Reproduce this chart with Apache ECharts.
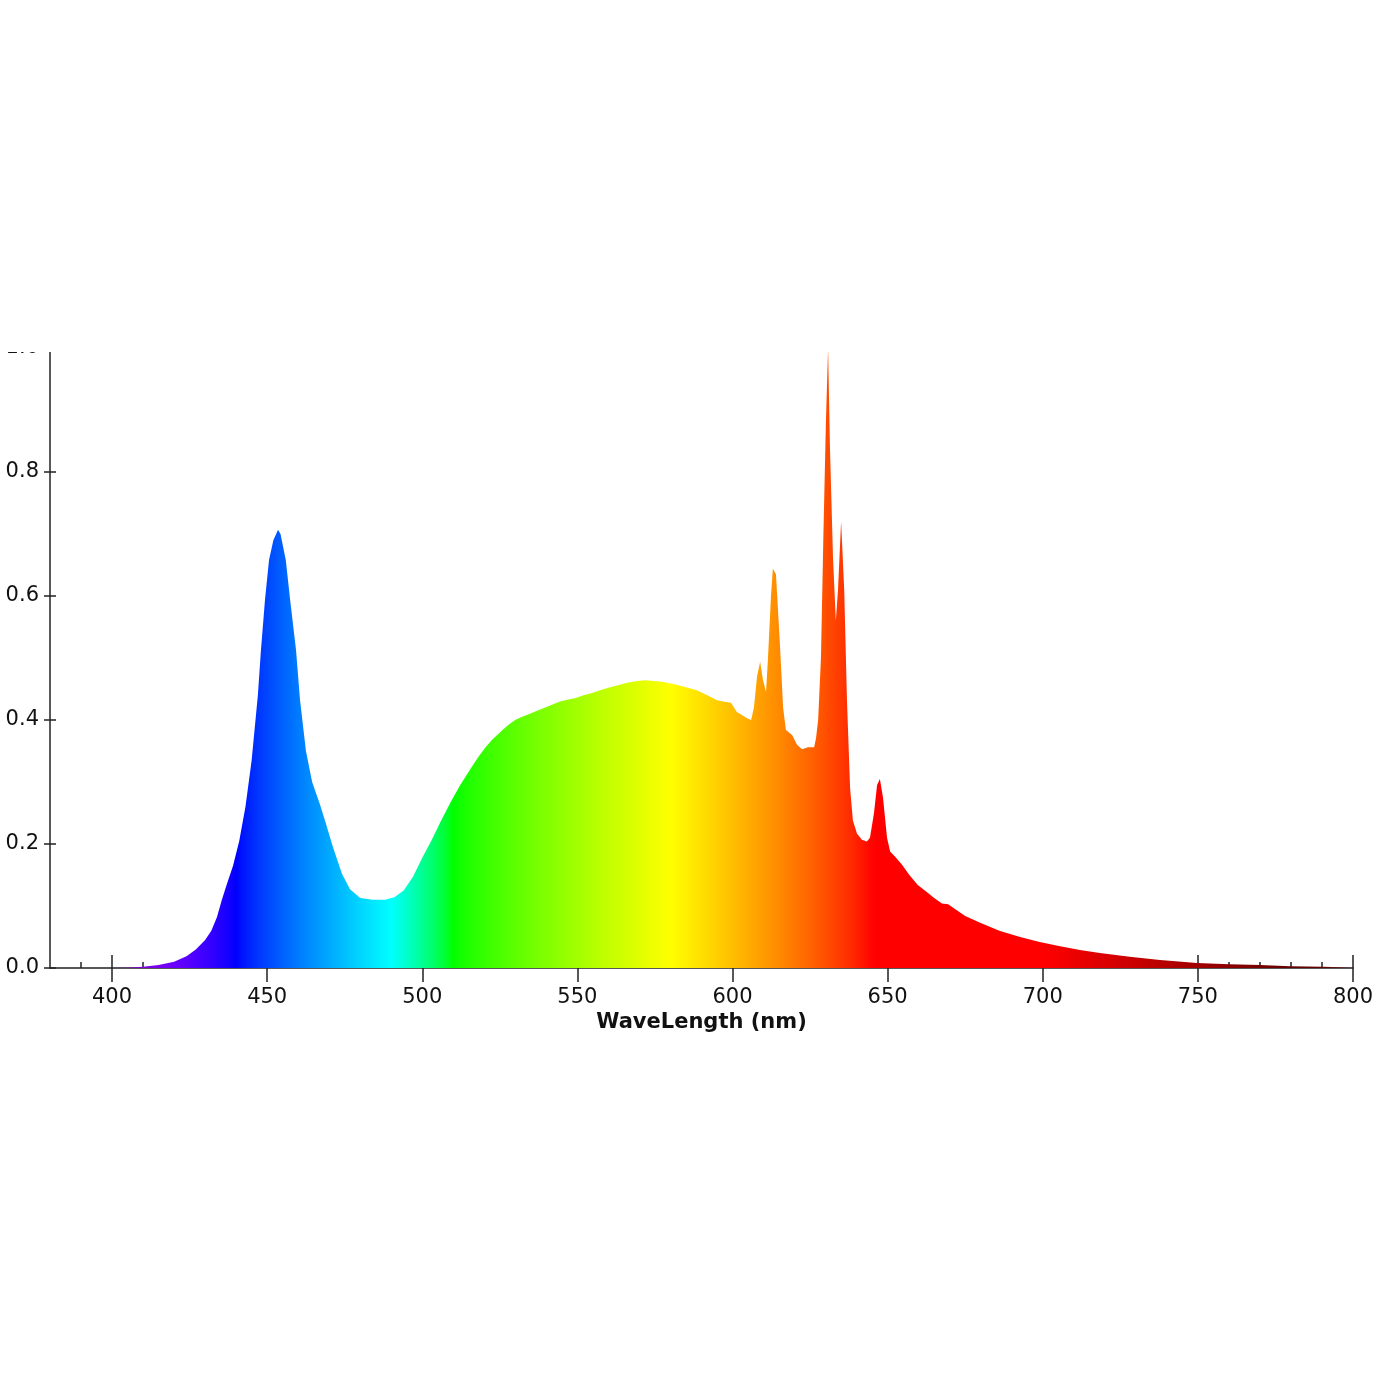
<!DOCTYPE html>
<html>
<head>
<meta charset="utf-8">
<script src="https://cdn.jsdelivr.net/npm/echarts@6/dist/echarts.min.js"></script>
<style>html,body{margin:0;padding:0;background:#fff}#chart{width:1395px;height:1395px}</style>
</head>
<body>
<div id="chart"></div>
<script>
// Wavelength (nm)
const wavelength = [380,390,400,405,410,415,420,424,427,430,432,433.8,435.4,437,439,441,443,445,447,448,449.3,450.6,452,453.5,454.3,456,457.4,459.3,460.6,462.5,464.5,467,469,471.2,474.1,476.7,480,484,488,491,494,497,500.2,503,506,509,512,515.4,518,520.2,522.5,525,527.5,529.9,532,534.7,537,539.6,542,544.4,547,549.2,552,554.5,557.3,560,563,566,569.2,572,574.4,576.5,578.9,582,585,588.5,591,593,595,597.9,599.5,601.4,603,604.7,606,606.9,607.9,608.9,609.8,610.8,611.4,612.4,613,614,615.3,616.3,617.2,619.2,620.8,622.4,624.3,626.3,626.9,627.6,628.5,629.3,630.1,630.8,631.4,632.4,633.3,634,635,636,636.9,637.9,638.8,640.1,641.7,643.3,644.3,645.6,646.6,647.5,648.5,649.8,650.8,652.5,654.7,657,659.7,662.5,665,667.5,669.5,671.7,675,679.8,686,692.7,699,705.6,712,718.4,728,737.8,749.7,760,770,779.7,790,800];
// Relative intensity
const intensity = [0,0,0,0.0005,0.002,0.005,0.010,0.019,0.03,0.045,0.06,0.082,0.11,0.135,0.165,0.205,0.26,0.335,0.44,0.513,0.594,0.658,0.69,0.707,0.70,0.658,0.594,0.513,0.432,0.35,0.30,0.264,0.232,0.195,0.152,0.127,0.113,0.110,0.110,0.114,0.125,0.147,0.18,0.206,0.237,0.266,0.293,0.32,0.34,0.355,0.368,0.38,0.391,0.40,0.405,0.41,0.415,0.42,0.425,0.43,0.433,0.435,0.44,0.443,0.448,0.452,0.456,0.46,0.463,0.464,0.463,0.462,0.46,0.457,0.453,0.448,0.442,0.437,0.432,0.429,0.428,0.413,0.408,0.403,0.40,0.42,0.47,0.494,0.465,0.445,0.497,0.60,0.644,0.635,0.52,0.42,0.384,0.376,0.36,0.353,0.356,0.356,0.37,0.40,0.50,0.70,0.88,1.0,0.84,0.66,0.56,0.61,0.72,0.61,0.43,0.29,0.238,0.217,0.207,0.204,0.21,0.25,0.295,0.305,0.275,0.21,0.188,0.179,0.166,0.15,0.134,0.123,0.113,0.104,0.103,0.095,0.084,0.073,0.06,0.05,0.042,0.035,0.029,0.024,0.018,0.013,0.008,0.006,0.005,0.003,0.002,0.001];
// Tick labels
const xMajor = [400,450,500,550,600,650,700,750,800];
const xMinor = [390,410,420,430,440,460,470,480,490,510,520,530,540,560,570,580,590,610,620,630,640,660,670,680,690,710,720,730,740,760,770,780,790];

function spectral(w){
  let r,g,b;
  if(w<440){r=-(w-440)/60;g=0;b=1;}
  else if(w<490){r=0;g=(w-440)/50;b=1;}
  else if(w<510){r=0;g=1;b=-(w-510)/20;}
  else if(w<580){r=(w-510)/70;g=1;b=0;}
  else if(w<645){r=1;g=-(w-645)/65;b=0;}
  else {r=1;g=0;b=0;}
  let f=1;
  if(w<420) f=0.3+0.7*(w-380)/40;
  else if(w>700) f=Math.max(0.3,0.3+0.7*(780-w)/80);
  const c=v=>Math.round(255*Math.pow(Math.max(0,Math.min(1,v*f)),0.8));
  return 'rgb('+c(r)+','+c(g)+','+c(b)+')';
}
const stops=[];
for(let w=380;w<=800;w+=2){stops.push({offset:(w-380)/420,color:spectral(w)});}

const data = wavelength.map((w,i)=>[w,intensity[i]]);
const axisColor='#222';
const font='DejaVu Sans';
const fs=21;
const chart = echarts.init(document.getElementById('chart'));
chart.setOption({
  animation:false,
  backgroundColor:'#fff',
  grid:{left:50,right:42,top:348,bottom:427,containLabel:false},
  xAxis:[
    {type:'value',min:380,max:800,position:'bottom',
     axisLine:{show:true,onZero:false,lineStyle:{color:axisColor,width:1.5}},
     axisTick:{show:true,customValues:xMajor,inside:false,length:14,lineStyle:{color:axisColor,width:1.5}},
     axisLabel:{show:true,customValues:xMajor,margin:19,fontSize:fs,color:'#111',fontFamily:font},
     splitLine:{show:false},
     name:'WaveLength (nm)',nameLocation:'middle',nameGap:44,
     nameTextStyle:{fontWeight:'bold',fontSize:fs,color:'#111',fontFamily:font}},
    {type:'value',min:380,max:800,position:'bottom',
     axisLine:{show:false,onZero:false},
     axisTick:{show:true,customValues:xMajor,inside:true,length:13,lineStyle:{color:axisColor,width:1.5}},
     axisLabel:{show:false},splitLine:{show:false}},
    {type:'value',min:380,max:800,position:'bottom',
     axisLine:{show:false,onZero:false},
     axisTick:{show:true,customValues:xMinor,inside:true,length:6,lineStyle:{color:axisColor,width:1.5}},
     axisLabel:{show:false},splitLine:{show:false}}
  ],
  yAxis:[
    {type:'value',min:0,max:1,interval:0.2,position:'left',
     axisLine:{show:true,onZero:false,lineStyle:{color:axisColor,width:1.5}},
     axisTick:{show:true,inside:false,length:6,lineStyle:{color:axisColor,width:1.5}},
     axisLabel:{formatter:v=>v.toFixed(1),margin:11,fontSize:fs,color:'#111',fontFamily:font},
     splitLine:{show:false}},
    {type:'value',min:0,max:1,interval:0.2,position:'left',
     axisLine:{show:false,onZero:false},
     axisTick:{show:true,inside:true,length:6,lineStyle:{color:axisColor,width:1.5}},
     axisLabel:{show:false},splitLine:{show:false}}
  ],
  series:[{
    type:'line',xAxisIndex:0,yAxisIndex:0,data:data,
    showSymbol:false,smooth:false,
    lineStyle:{width:0},
    areaStyle:{opacity:1,color:new echarts.graphic.LinearGradient(0,0,1,0,stops)},
    z:1
  }],
  graphic:[{type:'rect',shape:{x:0,y:0,width:1395,height:352},style:{fill:'#fff'},z:100}]
});
</script>
</body>
</html>
